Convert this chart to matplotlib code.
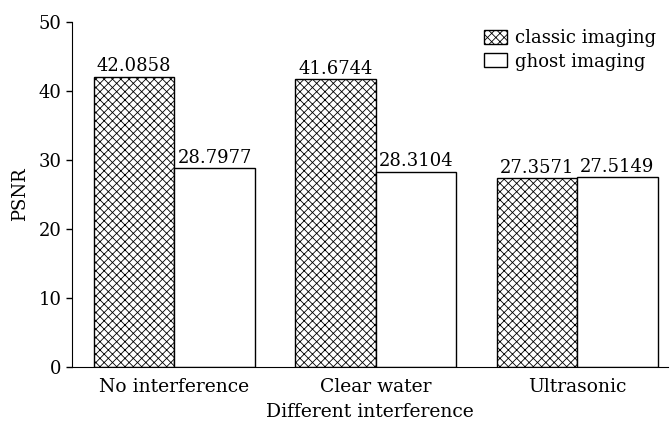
import numpy as np
import matplotlib
matplotlib.use('Agg')
import matplotlib.pyplot as plt

# data
categories = ['No interference', 'Clear water', 'Ultrasonic']
classic = [42.0858, 41.6744, 27.3571]
ghost = [28.7977, 28.3104, 27.5149]
series_names = ['classic imaging', 'ghost imaging']

plt.rcParams['font.family'] = 'DejaVu Serif'
plt.rcParams['hatch.linewidth'] = 0.6
plt.rcParams['hatch.color'] = '#333333'

fig = plt.figure(figsize=(6.71, 4.25), dpi=100)
ax = fig.add_axes([0.107, 0.1365, 0.888, 0.812])

x = np.arange(len(categories))
w = 0.4
b1 = ax.bar(x - w / 2, classic, w, facecolor='white', edgecolor='black',
            hatch='xxxx', linewidth=1, label=series_names[0])
b2 = ax.bar(x + w / 2, ghost, w, facecolor='white', edgecolor='black',
            linewidth=1, label=series_names[1])

# value labels on top of each bar
for bars, vals in ((b1, classic), (b2, ghost)):
    for r, v in zip(bars, vals):
        ax.text(r.get_x() + r.get_width() / 2, v + 0.2, '%.4f' % v,
                ha='center', va='bottom', fontsize=13)

ax.set_xlim(-0.51, 2.45)
ax.set_ylim(0, 50)
ax.set_yticks([0, 10, 20, 30, 40, 50])
ax.set_xticks(x)
ax.set_xticklabels(categories, fontsize=13.5)
ax.tick_params(axis='y', labelsize=13, direction='out', length=4, width=1)
ax.tick_params(axis='x', length=0, pad=8)
ax.spines['top'].set_visible(False)
ax.spines['right'].set_visible(False)
ax.set_xlabel('Different interference', fontsize=13.5, labelpad=5)
ax.set_ylabel('PSNR', fontsize=13, labelpad=7)

ax.legend(loc='upper right', frameon=False, fontsize=13, handlelength=1.3,
          handleheight=0.8, handletextpad=0.4, labelspacing=0.3,
          borderaxespad=0.1, bbox_to_anchor=(0.995, 1.005))

fig.savefig('out.png', dpi=100)
